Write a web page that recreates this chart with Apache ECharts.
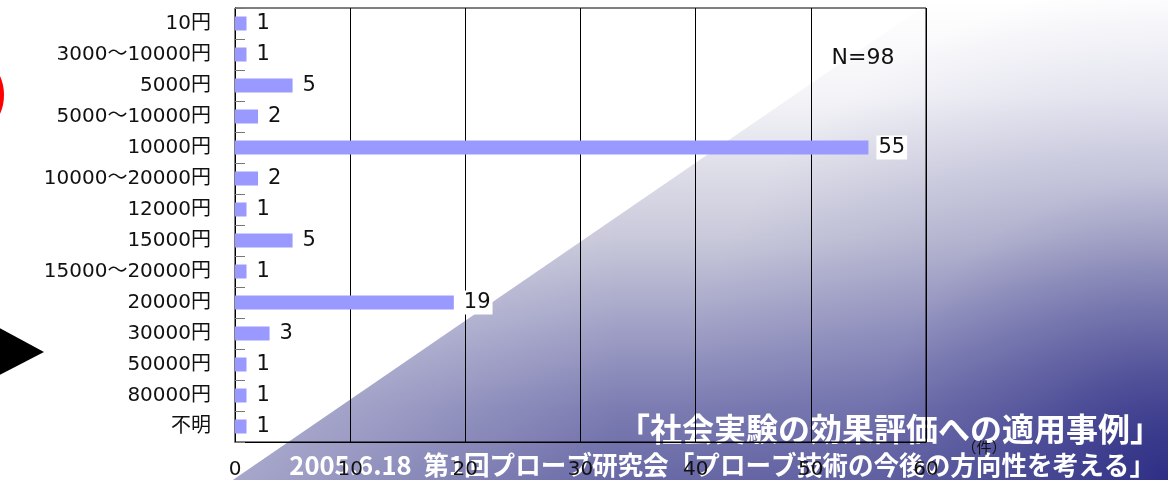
<!DOCTYPE html>
<html>
<head>
<meta charset="utf-8">
<script src="https://cdn.jsdelivr.net/npm/echarts@6/dist/echarts.min.js"></script>
<style>
  html, body { margin: 0; padding: 0; background: #fff; }
  #chart { width: 1168px; height: 480px; }
</style>
</head>
<body>
<div id="chart"></div>
<script>
// Price bands (top to bottom) and number of responses in each
const categories = [
  '10円', '3000～10000円', '5000円', '5000～10000円', '10000円',
  '10000～20000円', '12000円', '15000円', '15000～20000円', '20000円',
  '30000円', '50000円', '80000円', '不明'
];
const counts = [1, 1, 5, 2, 55, 2, 1, 5, 1, 19, 3, 1, 1, 1];
const xTicks = [0, 10, 20, 30, 40, 50, 60];

const sampleNote = 'N=98';
const unitNote = '（件）';
const slideTitle = '「社会実験の効果評価への適用事例」';
const slideFooter = '2005.6.18  第1回プローブ研究会「プローブ技術の今後の方向性を考える」';

const LATIN = "'DejaVu Sans', 'Noto Sans CJK JP', sans-serif";

const chart = echarts.init(document.getElementById('chart'), null, { renderer: 'canvas' });

// Diagonal slide backdrop
const bgShape = [[233, 480], [933, 0], [1168, 0], [1168, 480]];

chart.setOption({
  animation: false,
  backgroundColor: '#ffffff',
  grid: {
    left: 235, right: 242, top: 8, bottom: 38,
    show: true, borderColor: '#000', borderWidth: 1,
    backgroundColor: 'transparent'
  },
  xAxis: {
    type: 'value',
    min: xTicks[0], max: xTicks[xTicks.length - 1], interval: 10,
    axisLine: { show: true, lineStyle: { color: '#000', width: 1 } },
    axisTick: { show: false },
    splitLine: { show: true, lineStyle: { color: '#000', width: 1 } },
    axisLabel: { fontSize: 20, fontFamily: LATIN, color: '#111', margin: 18 }
  },
  yAxis: {
    type: 'category',
    data: categories,
    inverse: true,
    axisLine: { show: true, lineStyle: { color: '#000', width: 1 } },
    axisTick: { show: true, inside: true, length: 10, lineStyle: { color: '#777', width: 1 } },
    axisLabel: { fontSize: 20, fontFamily: LATIN, color: '#111', margin: 24 }
  },
  series: [{
    type: 'bar',
    data: counts,
    barWidth: 14,
    itemStyle: { color: '#9999ff' },
    label: {
      show: true,
      position: 'right',
      distance: 8,
      fontSize: 21,
      fontFamily: LATIN,
      color: '#111',
      backgroundColor: '#ffffff',
      padding: [2, 2, 1, 2]
    },
    z: 3
  }],
  graphic: [
    {
      type: 'polygon', silent: true, z: -30,
      shape: { points: bgShape },
      style: {
        fill: new echarts.graphic.LinearGradient(0, 0, 0, 480, [
          { offset: 0, color: '#ffffff' },
          { offset: 0.2, color: '#f4f4f8' },
          { offset: 0.5, color: '#c8c8da' },
          { offset: 0.7, color: '#9c9cc4' },
          { offset: 0.85, color: '#7c7cb2' },
          { offset: 1, color: '#6868a6' }
        ], true)
      }
    },
    {
      type: 'polygon', silent: true, z: -29,
      shape: { points: bgShape },
      style: {
        fill: new echarts.graphic.LinearGradient(233, 0, 620, 0, [
          { offset: 0, color: 'rgba(255,255,255,0.42)' },
          { offset: 1, color: 'rgba(255,255,255,0)' }
        ], true)
      }
    },
    {
      type: 'polygon', silent: true, z: -28,
      shape: { points: bgShape },
      style: {
        fill: new echarts.graphic.RadialGradient(1168, 480, 500, [
          { offset: 0, color: 'rgba(36,36,128,0.85)' },
          { offset: 0.3, color: 'rgba(40,40,130,0.45)' },
          { offset: 0.6, color: 'rgba(50,50,140,0.15)' },
          { offset: 1, color: 'rgba(60,60,150,0)' }
        ], true)
      }
    },
    // red ring cut by the left edge
    {
      type: 'circle', silent: true, z: -20,
      shape: { cx: -41, cy: 95, r: 42 },
      style: { fill: 'none', stroke: '#ff0000', lineWidth: 6 }
    },
    // black pointer
    {
      type: 'polygon', silent: true, z: -20,
      shape: { points: [[-10, 323], [44, 352], [-10, 380]] },
      style: { fill: '#000' }
    },
    {
      type: 'text', silent: true, z: -20,
      style: {
        text: slideTitle, x: 1162, y: 429,
        align: 'right', verticalAlign: 'middle',
        font: "bold 32px 'Noto Sans CJK JP', sans-serif",
        fill: '#ffffff'
      }
    },
    {
      type: 'text', silent: true, z: -20,
      style: {
        text: slideFooter, x: 1155, y: 465,
        align: 'right', verticalAlign: 'middle',
        font: "bold 25.6px 'Noto Sans CJK JP', sans-serif",
        fill: '#ffffff'
      }
    },
    {
      type: 'text', silent: true, z: 50,
      style: {
        text: sampleNote, x: 863, y: 58,
        align: 'center', verticalAlign: 'middle',
        font: "22px 'DejaVu Sans', sans-serif",
        fill: '#111'
      }
    },
    {
      type: 'text', silent: true, z: 50,
      style: {
        text: unitNote, x: 984, y: 447,
        align: 'center', verticalAlign: 'middle',
        font: "15px 'Noto Sans CJK JP', sans-serif",
        fill: '#111'
      }
    }
  ]
});
</script>
</body>
</html>
